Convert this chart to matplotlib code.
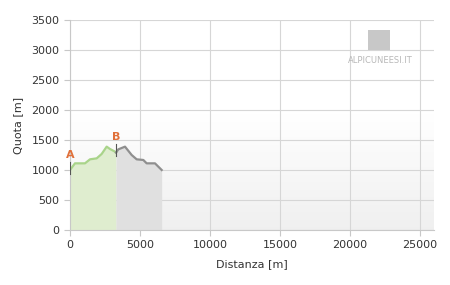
import numpy as np
import matplotlib
matplotlib.use("Agg")
import matplotlib.pyplot as plt

# profile
dist = [0, 357, 1071, 1429, 1905, 2262, 2619, 2857, 3214, 3286,
        3452, 3929, 4405, 4762, 5238, 5476, 6071, 6548]
quota = [1000, 1111, 1111, 1178, 1194, 1267, 1389, 1350, 1306, 1290,
         1344, 1389, 1250, 1178, 1167, 1111, 1111, 1000]
waypoints = ["A", "B"]
waypoint_dist = [0, 3286]
xticks = [0, 5000, 10000, 15000, 20000, 25000]
yticks = [0, 500, 1000, 1500, 2000, 2500, 3000, 3500]

dist = np.array(dist)
quota = np.array(quota)

fig = plt.figure(figsize=(4.5, 2.85), dpi=100)
ax = fig.add_axes([70/450, 55/285, 364/450, 210/285])

# background gradient: white above ~1700 m, fading to light grey at the bottom
t = np.linspace(0, 1, 256)            # 0 = top, 1 = bottom
v = 1.0 - 0.06 * np.clip((t - 0.45) / 0.55, 0, 1)
rgb = np.repeat(v[:, None, None], 3, axis=2)
ax.imshow(rgb, extent=[0, 26000, 0, 3500], aspect="auto", origin="upper",
          zorder=0, interpolation="bilinear")

split = waypoint_dist[1]
m1 = dist <= split
m2 = dist >= split
ax.fill_between(dist[m1], 0, quota[m1], color="#dfedcf", zorder=2, lw=0)
ax.fill_between(dist[m2], 0, quota[m2], color="#e0e0e0", zorder=2, lw=0)
ax.plot(dist[m1], quota[m1], color="#a9d48a", lw=1.6, zorder=3)
ax.plot(dist[m2], quota[m2], color="#8f8f8f", lw=1.6, zorder=3)

for name, d in zip(waypoints, waypoint_dist):
    q = np.interp(d, dist, quota)
    ax.plot([d, d], [q - 60, q + 140], color="#555555", lw=0.8, zorder=4)
    ax.text(d, q + 170, name, color="#e0703a", fontsize=8, fontweight="bold",
            ha="center", va="bottom", zorder=5)

ax.set_xlim(0, 26000)
ax.set_ylim(0, 3500)
ax.set_xticks(xticks)
ax.set_yticks(yticks)
ax.grid(True, color="#d6d6d6", lw=0.8, zorder=1)
ax.set_axisbelow(True)
for s in ["top", "right"]:
    ax.spines[s].set_visible(False)
for s in ["left", "bottom"]:
    ax.spines[s].set_color("#c8c8c8")
ax.tick_params(colors="#c8c8c8", labelcolor="#333333", labelsize=8, length=4)
ax.set_xlabel("Distanza [m]", fontsize=8, color="#333333", labelpad=6)
ax.set_ylabel("Quota [m]", fontsize=8, color="#333333", labelpad=6)

# watermark
ax.fill([21300, 22850, 22850, 21300], [3000, 3000, 3330, 3330],
        color="#c8c8c8", zorder=2, lw=0)
ax.text(22150, 2900, "ALPICUNEESI.IT", color="#b8b8b8", fontsize=6,
        ha="center", va="top", zorder=2)

fig.savefig("out.png", dpi=100)
